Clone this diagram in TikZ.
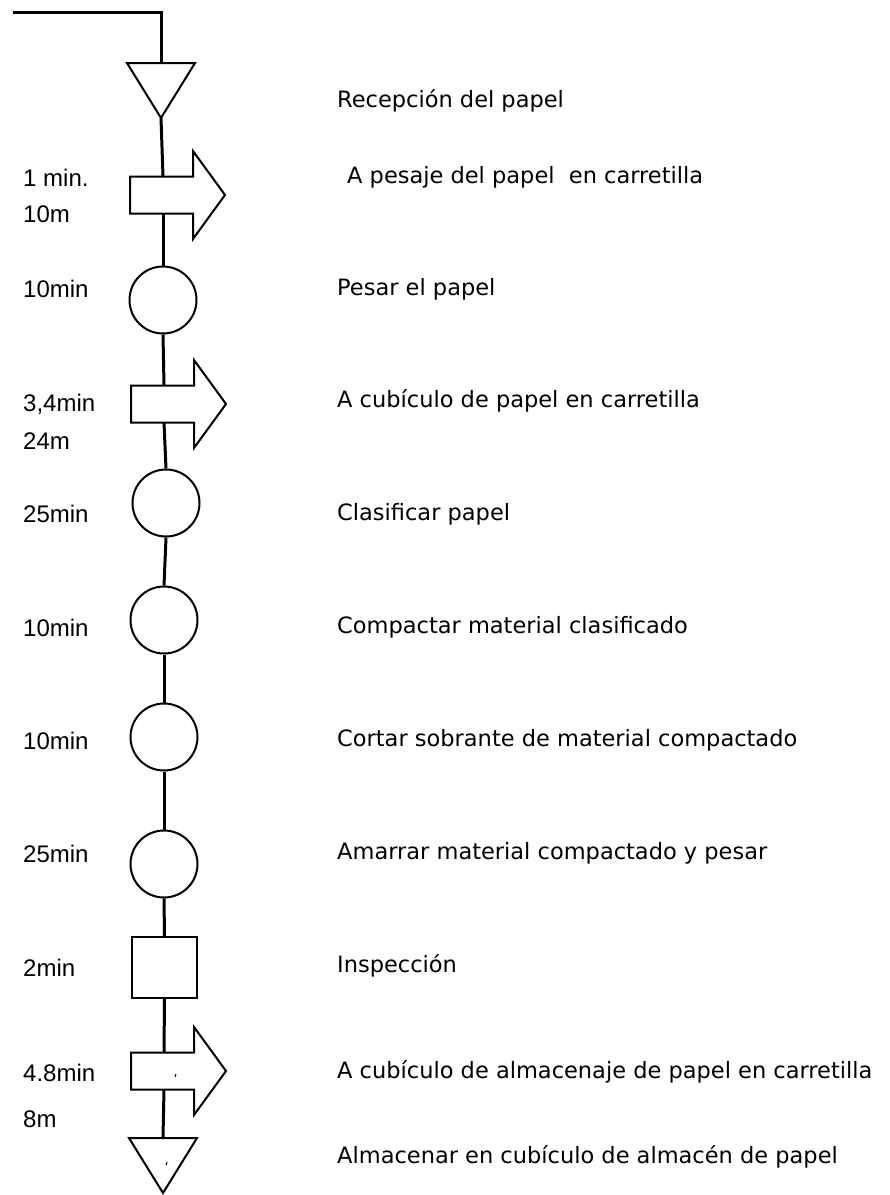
\documentclass[tikz,border=0pt]{standalone}
\usepackage{fontspec}
\usepackage{tikz}
\usetikzlibrary{calc, positioning}
\newfontfamily\arialfont{Liberation Sans}
\newfontfamily\comicfont{DejaVu Sans}

\tikzset{
    flujo/.style={line width=3pt},
    forma/.style={line width=2pt},
    operacion/.style={draw, forma, circle, minimum size=67pt, inner sep=0},
    inspeccion/.style={draw, forma, rectangle, minimum width=65pt, minimum height=61pt, inner sep=0},
    tiempo/.style={anchor=base west, inner sep=0, font=\arialfont\fontsize{24}{28}\selectfont},
    actividad/.style={anchor=base west, inner sep=0, font=\comicfont\fontsize{22.5}{26}\selectfont},
    almacen/.pic={
        \draw[forma] (-34,0) -- (34,0) -- (0,55) -- cycle;
        \coordinate (-n) at (0,0);
        \coordinate (-s) at (0,55);
    },
    transporte/.pic={
        \draw[forma] (-33,-18.5) -- (30,-18.5) -- (30,-44) -- (62,0)
            -- (30,44) -- (30,18.5) -- (-33,18.5) -- cycle;
        \coordinate (-n) at (0,-18.5);
        \coordinate (-s) at (0,18.5);
    }
}

\begin{document}
\begin{tikzpicture}[x=1pt, y=-1pt]
            \useasboundingbox (0,0) rectangle (890,1195);

            % === Symbols ===
            \pic (a1) at (161,63) {almacen};
            \pic (t1) at (163,195) {transporte};
            \node[operacion] (o1) at (163,300) {};
            \pic (t2) at (164,404) {transporte};
            \node[operacion] (o2) at (166,503) {};
            \node[operacion] (o3) at (164,620) {};
            \node[operacion] (o4) at (164,737) {};
            \node[operacion] (o5) at (164,864) {};
            \node[inspeccion] (i1) at (164.5,967.5) {};
            \pic (t3) at (164,1071) {transporte};
            \pic (a2) at (163,1138) {almacen};

            % small marks inside the last two symbols
            \draw[line width=1pt] (175,1077) -- (176,1074);
            \draw[line width=1pt] (166,1165) -- (167,1162);

            % === Flow line ===
            \coordinate (inicio) at (13,12);
            \draw[flujo] (inicio) -| (a1-n);
            \draw[flujo] (a1-s) -- (t1-n);
            \draw[flujo] (t1-s) -- (o1.north);
            \draw[flujo] (o1.south) -- (t2-n);
            \draw[flujo] (t2-s) -- (o2.north);
            \draw[flujo] (o2.south) -- (o3.north);
            \draw[flujo] (o3.south) -- (o4.north);
            \draw[flujo] (o4.south) -- (o5.north);
            \draw[flujo] (o5.south) -- (i1.north);
            \draw[flujo] (i1.south) -- (t3-n);
            \draw[flujo] (t3-s) -- (a2-n);

            % === Times and distances ===
            \node[tiempo] (d1) at (23,186) {1 min.};
            \node[tiempo] (d1m) at (23,222) {10m};
            \node[tiempo] (d2) at (23,297) {10min};
            \node[tiempo] (d3) at (23,411) {3,4min};
            \node[tiempo] (d3m) at (23,449) {24m};
            \node[tiempo] (d4) at (23,522) {25min};
            \node[tiempo] (d5) at (23,636) {10min};
            \node[tiempo] (d6) at (23,749) {10min};
            \node[tiempo] (d7) at (23,862) {25min};
            \node[tiempo] (d8) at (23,976) {2min};
            \node[tiempo] (d9) at (23,1081) {4.8min};
            \node[tiempo] (d9m) at (23,1127) {8m};

            % === Activities ===
            \node[actividad] (e1) at (337,107) {Recepción del papel};
            \node[actividad] (e2) at (347,183) {A pesaje del papel \ en carretilla};
            \node[actividad] (e3) at (337,295) {Pesar el papel};
            \node[actividad] (e4) at (337,407) {A cubículo de papel en carretilla};
            \node[actividad] (e5) at (337,520) {Clasificar papel};
            \node[actividad] (e6) at (337,633) {Compactar material clasificado};
            \node[actividad] (e7) at (337,746) {Cortar sobrante de material compactado};
            \node[actividad] (e8) at (337,859) {Amarrar material compactado y pesar};
            \node[actividad] (e9) at (337,972) {Inspección};
            \node[actividad] (e10) at (337,1078) {A cubículo de almacenaje de papel en carretilla};
            \node[actividad] (e11) at (337,1163) {Almacenar en cubículo de almacén de papel};
        \end{tikzpicture}
\end{document}
